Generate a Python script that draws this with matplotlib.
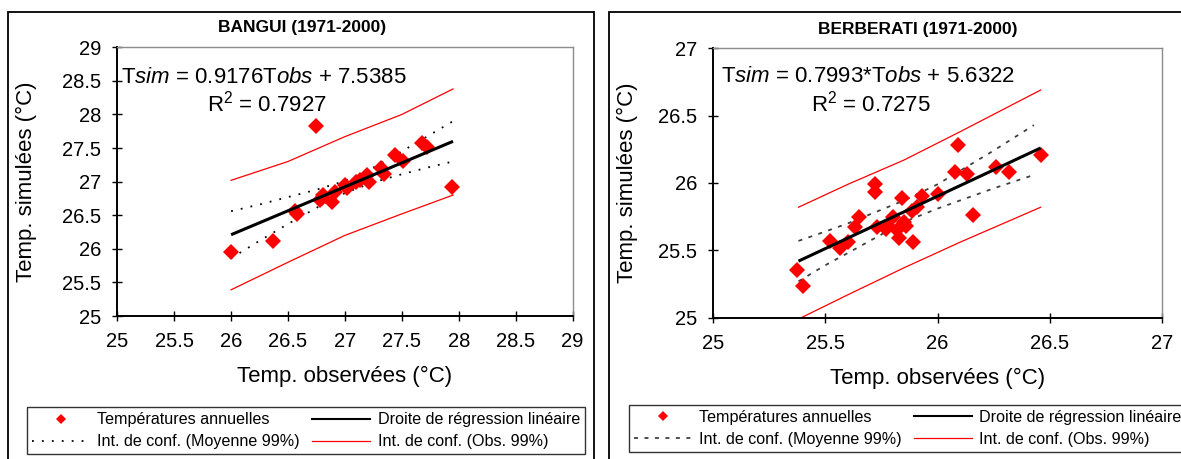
import matplotlib
matplotlib.use("Agg")
import matplotlib.pyplot as plt
from matplotlib.patches import Rectangle
from matplotlib.lines import Line2D

plt.rcParams['font.family'] = ['Liberation Sans', 'DejaVu Sans']
plt.rcParams['mathtext.fontset'] = 'custom'
plt.rcParams['mathtext.rm'] = 'Liberation Sans'
plt.rcParams['mathtext.it'] = 'Liberation Sans:italic'

# ---------------- data ----------------
bangui_obs = [26.00, 26.37, 26.56, 26.58, 26.75, 26.78, 26.80, 26.81, 26.89, 26.91, 27.00, 27.02,
              27.10, 27.13, 27.19, 27.21, 27.32, 27.34, 27.44, 27.51, 27.68, 27.72, 27.94]
bangui_sim = [25.96, 26.12, 26.56, 26.52, 27.83, 26.73, 26.75, 26.80, 26.70, 26.84, 26.95, 26.90,
              27.00, 27.02, 27.10, 27.00, 27.21, 27.11, 27.40, 27.30, 27.58, 27.52, 26.92]
bangui_fit_x = [26.00, 27.95]
bangui_fit_y = [26.21, 27.60]
bangui_ci_x = [26.0, 26.25, 26.5, 26.75, 27.0, 27.25, 27.5, 27.75, 27.95]
bangui_mean_up = [26.56, 26.66, 26.77, 26.88, 27.01, 27.21, 27.45, 27.70, 27.90]
bangui_mean_lo = [25.86, 26.12, 26.37, 26.61, 26.83, 26.99, 27.11, 27.22, 27.30]
bangui_obs_x = [26.0, 26.5, 27.0, 27.5, 27.95]
bangui_obs_up = [27.02, 27.30, 27.67, 28.00, 28.38]
bangui_obs_lo = [25.39, 25.80, 26.20, 26.52, 26.80]

berb_obs = [25.375, 25.40, 25.52, 25.565, 25.60, 25.63, 25.65, 25.72, 25.72, 25.73, 25.77, 25.78,
            25.80, 25.82, 25.83, 25.84, 25.85, 25.86, 25.89, 25.885, 25.91, 25.93, 26.00, 26.08,
            26.09, 26.13, 26.16, 26.26, 26.32, 26.46]
berb_sim = [25.354, 25.235, 25.57, 25.515, 25.56, 25.67, 25.75, 25.99, 25.93, 25.67, 25.66, 25.68,
            25.75, 25.65, 25.59, 25.89, 25.71, 25.68, 25.56, 25.79, 25.82, 25.90, 25.92, 26.08,
            26.28, 26.07, 25.76, 26.12, 26.08, 26.21]
berb_fit_x = [25.38, 26.46]
berb_fit_y = [25.42, 26.26]
berb_ci_x = [25.38, 25.5, 25.6, 25.85, 26.0, 26.1, 26.25, 26.43]
berb_mean_up = [25.57, 25.64, 25.70, 25.87, 25.99, 26.09, 26.24, 26.43]
berb_mean_lo = [25.27, 25.39, 25.48, 25.71, 25.81, 25.87, 25.96, 26.06]
berb_obs_x = [25.38, 25.6, 25.85, 26.1, 26.46]
berb_obs_up = [25.82, 25.99, 26.17, 26.38, 26.69]
berb_obs_lo = [24.99, 25.17, 25.37, 25.56, 25.82]

bangui_ticks = [25, 25.5, 26, 26.5, 27, 27.5, 28, 28.5, 29]
berb_ticks = [25, 25.5, 26, 26.5, 27]

bangui_title = "BANGUI (1971-2000)"
berb_title = "BERBERATI (1971-2000)"
bangui_eq = r"T$\mathit{sim}$ = 0.9176T$\mathit{obs}$ + 7.5385"
bangui_r2 = r"R$^2$ = 0.7927"
berb_eq = r"T$\mathit{sim}$ = 0.7993*T$\mathit{obs}$ + 5.6322"
berb_r2 = r"R$^2$ = 0.7275"

legend_labels = ["Températures annuelles", "Int. de conf. (Moyenne 99%)",
                 "Droite de régression linéaire", "Int. de conf. (Obs. 99%)"]
xlabel = "Temp. observées (°C)"
ylabel = "Temp. simulées (°C)"

# ---------------- figure ----------------
W, H = 1181, 459
fig = plt.figure(figsize=(W / 100, H / 100), dpi=100)


def fx(px):
    return px / W


def fy(py):
    return 1 - py / H


def panel(rect_px, obs, sim, fit_x, fit_y, ci_x, mu, ml, ox, ou, ol, ticks,
          title, title_xy, eq, eq_xy, r2, r2_xy, dash, dash_color, frame_px, leg_px,
          xlab_y, ylab_x):
    # frame around panel
    x0, y0, x1 = frame_px
    fig.patches.append(Rectangle((fx(x0), -0.05), fx(x1) - fx(x0), fy(y0) + 0.05,
                                 transform=fig.transFigure, fill=False,
                                 edgecolor='black', linewidth=1.3, zorder=0))
    l, t, r, b = rect_px
    ax = fig.add_axes([fx(l), fy(b), fx(r) - fx(l), fy(t) - fy(b)])
    ax.plot(ox, ou, color='#FF0000', lw=0.9, zorder=2)
    ax.plot(ox, ol, color='#FF0000', lw=0.9, zorder=2)
    ax.plot(ci_x, mu, color=dash_color, lw=1.3, linestyle=dash, zorder=2)
    ax.plot(ci_x, ml, color=dash_color, lw=1.3, linestyle=dash, zorder=2)
    ax.plot(obs, sim, linestyle='none', marker='D', markersize=7.8,
            color='#FF0000', markeredgewidth=0, zorder=3)
    ax.plot(fit_x, fit_y, color='black', lw=2.2, zorder=4, solid_capstyle='butt')
    ax.set_xlim(ticks[0], ticks[-1])
    ax.set_ylim(ticks[0], ticks[-1])
    ax.set_xticks(ticks)
    ax.set_yticks(ticks)
    ax.set_xticklabels([f"{v:g}" for v in ticks])
    ax.set_yticklabels([f"{v:g}" for v in ticks])
    ax.tick_params(direction='inout', length=7.8, width=1.0, labelsize=14.5, pad=7.5,
                   color='black')
    for s in ['left', 'bottom']:
        ax.spines[s].set_linewidth(1.4)
        ax.spines[s].set_color('black')
    for s in ['top', 'right']:
        ax.spines[s].set_linewidth(1.0)
        ax.spines[s].set_color('#8c8c8c')
    ax.set_xlabel(xlabel, fontsize=16)
    ax.set_ylabel(ylabel, fontsize=16)
    ax.xaxis.set_label_coords(0.5, xlab_y)
    ax.xaxis.label.set_va('center')
    ax.yaxis.set_label_coords(ylab_x, 0.5)
    ax.yaxis.label.set_va('center')
    fig.text(fx(title_xy[0]), fy(title_xy[1]), title, ha='center', va='baseline',
             fontsize=12.5, fontweight='bold')
    fig.text(fx(eq_xy[0]), fy(eq_xy[1]), eq, ha='left', va='baseline', fontsize=16)
    fig.text(fx(r2_xy[0]), fy(r2_xy[1]), r2, ha='left', va='baseline', fontsize=16)

    handles = [
        Line2D([], [], linestyle='none', marker='D', markersize=5.2, color='#FF0000',
               markeredgewidth=0),
        Line2D([], [], color=dash_color, lw=1.3, linestyle=dash),
        Line2D([], [], color='black', lw=1.5),
        Line2D([], [], color='#FF0000', lw=0.9),
    ]
    lx0, ly0, lx1, ly1 = leg_px
    leg = fig.legend(handles, legend_labels, ncol=2, mode='expand',
                     bbox_to_anchor=(fx(lx0), fy(ly1), fx(lx1) - fx(lx0), fy(ly0) - fy(ly1)),
                     bbox_transform=fig.transFigure, loc='lower left',
                     fontsize=11.6, frameon=True, fancybox=False, handlelength=3.6,
                     handletextpad=0.45, borderpad=0.3, labelspacing=0.45,
                     columnspacing=0.5, borderaxespad=0)
    leg.get_frame().set_edgecolor('black')
    leg.get_frame().set_linewidth(1.0)
    return ax


panel((117.3, 47.3, 572.5, 316.0), bangui_obs, bangui_sim, bangui_fit_x, bangui_fit_y,
      bangui_ci_x, bangui_mean_up, bangui_mean_lo, bangui_obs_x, bangui_obs_up, bangui_obs_lo,
      bangui_ticks, bangui_title, (302, 31.7), bangui_eq, (121, 83.3), bangui_r2, (207, 111.7),
      (0, (1, 4.5)), 'black', (8, 11.7, 594), (27.3, 400.7, 584.6, 454.3), -0.226, -0.199)

panel((713.3, 48.3, 1161.7, 317.7), berb_obs, berb_sim, berb_fit_x, berb_fit_y,
      berb_ci_x, berb_mean_up, berb_mean_lo, berb_obs_x, berb_obs_up, berb_obs_lo,
      berb_ticks, berb_title, (918, 34), berb_eq, (721, 82.5), berb_r2, (811, 111.5),
      (0, (2.2, 3.6)), '#404040', (609, 11.7, 1240), (628.8, 396, 1186, 451.7), -0.224, -0.191)

fig.savefig("out.png", dpi=100)
